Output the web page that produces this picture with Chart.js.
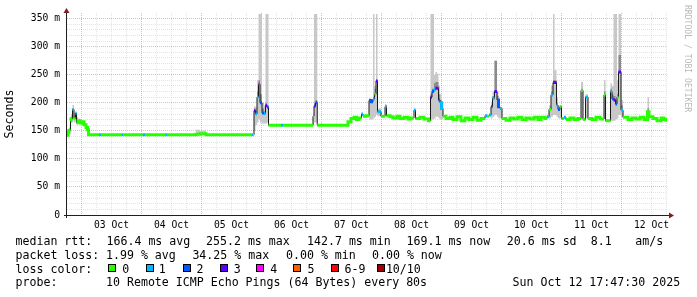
<!DOCTYPE html>
<html><head><meta charset="utf-8">
<script src="https://cdn.jsdelivr.net/npm/chart.js@4.4.1/dist/chart.umd.min.js"></script>
<style>
html,body{margin:0;padding:0;background:#fff;}
#wrap{position:relative;width:697px;height:297px;overflow:hidden;background:#fff;}
canvas{position:absolute;left:0;top:0;}
.t{position:absolute;font-family:'DejaVu Sans Mono',monospace;font-size:11.6px;line-height:14px;color:#000;white-space:pre;}
.box{position:absolute;width:8px;height:8px;box-sizing:border-box;border:1px solid #000;}
#wm{position:absolute;left:683px;top:5px;font-family:'DejaVu Sans Mono',monospace;font-size:8.1px;line-height:10px;color:#b8b8b8;writing-mode:vertical-rl;white-space:pre;}
</style></head><body>
<div id="wrap"><canvas id="c" width="697" height="297" style="width:697px;height:297px"></canvas></div>
<script>
// ---- data (hours since graph start, 02 Oct 18:12) ----
const hours = [0,0.4,0.8,1.4,1.6,2.2,2.8,3.4,3.8,4.4,
5.2,6.0,6.8,7.6,8.2,8.6,12.8,13.6,21.8,22.4,
30.2,31.2,39.4,40.0,51.6,53.2,55.6,74.0,74.4,74.8,
75.4,76.0,76.6,77.2,78.0,78.8,79.4,80.0,80.6,85.6,
86.4,98.4,98.8,99.4,100.1,112.4,113.6,114.8,115.8,116.8,
117.8,118.4,119.6,120.8,121.6,122.4,123.0,123.6,124.2,125.6,
127.2,127.8,129.2,130.4,132.0,133.2,134.8,136.4,137.6,138.8,
139.4,141.2,142.8,144.6,145.4,146.0,146.8,147.4,148.0,148.6,
149.2,149.8,150.4,151.6,153.2,154.4,156.0,157.6,159.2,160.8,
162.4,164.0,165.6,167.2,168.0,168.8,169.6,170.2,171.0,172.0,
172.6,173.2,174.0,175.6,177.2,178.8,180.4,182.0,183.6,185.2,
186.8,188.4,189.6,191.2,192.0,192.8,193.6,194.4,195.0,195.8,
196.4,197.2,197.8,198.8,199.6,201.2,202.8,204.4,205.6,206.4,
207.4,208.4,210.0,211.6,213.2,214.8,215.4,217.4,218.0,218.6,
219.4,220.0,220.6,221.6,222.4,224.4,226.0,227.6,229.2,230.8,
232.2,232.8,234.4,236.0,237.6,238.8,239.6,240.0];
// median rtt in ms
const median = [142,148,151,168,171,188,172,181,165,168,
164,166,161,156,152,143,143,143,143,143,
143,143,143,143,144,145,143,143,143,186,
180,210,233,200,182,181,195,192,160,160,
160,176,194,200,160,166,172,174,170,173,
180,176,177,204,202,207,215,239,184,176,
193,177,175,173,176,172,174,171,173,187,
172,174,171,168,210,220,223,226,226,205,
200,190,176,172,174,170,175,168,173,170,
174,169,172,177,176,178,193,208,220,205,
193,190,172,169,173,171,174,170,173,171,
174,170,174,172,175,188,214,236,236,196,
188,193,172,174,170,173,170,172,222,170,
210,172,170,174,171,214,168,220,207,205,
198,210,255,187,174,170,173,171,174,170,
184,175,172,168,173,170,169,169];
// lost pings out of 10
const loss = [0,0,0,0,0,1,0,1,0,0,
0,0,0,0,0,0,1,0,1,0,
1,0,1,0,0,0,0,1,0,3,
1,1,4,2,2,1,3,2,0,1,
0,1,3,2,0,0,0,0,0,0,
1,0,0,2,2,1,0,3,1,0,
1,0,0,0,0,0,0,0,0,1,
0,0,0,0,3,2,1,3,3,2,
1,1,0,0,0,0,0,0,0,0,
0,0,0,1,0,1,2,1,3,2,
2,1,0,0,0,0,0,0,0,0,
0,0,0,0,1,0,1,3,3,1,
2,0,0,1,0,0,0,0,0,0,
1,0,0,0,0,0,0,1,2,3,
2,0,3,1,0,0,0,0,0,0,
0,0,0,0,0,0,0,0];
// smoke: lowest ping, upper edge of dense smoke, highest ping (ms)
const smokeLow = [142,145,148,160,165,168,165,168,160,163,
162,163,161,156,152,143,143,143,143,143,
143,143,143,143,143,143,143,143,143,150,
160,165,170,165,163,163,163,165,160,160,
160,160,165,165,160,166,172,174,170,173,
180,176,177,170,170,172,175,178,176,176,
176,177,175,173,176,172,174,171,173,187,
172,174,171,168,168,170,172,175,175,172,
170,170,176,172,174,170,175,168,173,170,
174,169,172,177,176,178,172,175,178,175,
172,172,172,169,173,171,174,170,173,171,
174,170,174,172,175,172,175,178,178,175,
172,172,172,174,170,173,170,172,172,170,
172,172,170,174,171,172,168,168,168,168,
170,172,178,175,174,170,173,171,174,170,
172,175,172,168,173,170,169,169];
const smokeDark = [142,148,151,170,175,190,176,183,168,168,
164,166,161,156,152,143,143,143,143,143,
143,143,143,143,144,145,143,143,143,190,
185,220,240,215,190,185,200,196,160,160,
160,176,200,205,160,166,172,174,170,173,
180,176,177,204,202,210,225,241,184,176,
196,177,175,173,176,172,174,171,173,187,
172,174,171,168,215,225,235,237,237,215,
205,192,176,172,174,170,175,168,173,170,
174,169,172,177,176,178,196,212,275,212,
196,190,172,169,173,171,174,170,173,171,
174,170,174,172,175,190,220,240,240,200,
190,193,172,174,170,173,170,172,225,170,
212,172,170,174,171,220,168,225,215,212,
205,215,285,195,174,170,173,171,174,170,
190,175,172,168,173,170,169,169];
const smokeHigh = [142,152,156,176,180,196,182,186,175,172,
168,168,161,156,152,143,143,143,143,143,
143,143,143,143,152,150,143,143,143,194,
192,240,358,358,200,195,358,358,160,160,
160,180,358,358,160,166,172,174,170,173,
180,176,177,208,205,358,230,358,190,176,
198,177,175,173,176,172,174,171,173,187,
172,174,171,168,358,358,250,255,252,230,
215,196,176,172,174,170,175,168,173,170,
174,169,172,177,176,178,200,220,275,220,
200,192,172,169,173,171,174,170,173,171,
174,170,174,172,175,195,230,358,258,210,
195,196,172,174,170,173,170,172,237,170,
215,172,170,174,171,240,168,235,230,358,
358,240,358,205,174,170,173,171,174,170,
210,175,172,168,173,170,169,169];

const yTicksMs = [0,10,20,30,40,50,60,70,80,90,100,110,120,130,140,150,160,170,180,190,200,210,220,230,240,250,260,270,280,290,300,310,320,330,340,350];
const dayLabels = ['03 Oct','04 Oct','05 Oct','06 Oct','07 Oct','08 Oct','09 Oct','10 Oct','11 Oct','12 Oct'];
const lossLabels = ['0','1','2','3','4','5','6-9','10/10'];
const lossColors = ['#26ff00','#00b8ff','#0059ff','#5e00ff','#ff00ff','#ff5e00','#ff0000','#a00000'];
const medianStats = ['166.4 ms avg','255.2 ms max','142.7 ms min','169.1 ms now','20.6 ms sd','8.1','am/s'];
const lossStats = ['1.99 % avg','34.25 % max','0.00 % min','0.00 % now'];
const probeText = '10 Remote ICMP Echo Pings (64 Bytes) every 80s';
const stampText = 'Sun Oct 12 17:47:30 2025';

// ---- layout constants ----
const FIRST_MIDNIGHT = 5.8;   // hours from start to 03 Oct 00:00
const FONT = "'DejaVu Sans Mono', monospace";
const MAJOR = 'rgba(222,70,70,0.4)';
const MINOR = 'rgba(130,130,130,0.22)';
const JUMP = 15; // colored median is not drawn across larger jumps (black line shows them)

function cat(l){ return l>=10?7:(l>=6?6:l); }
const catData = lossColors.map(()=>[]);
for (let i=0;i<hours.length;i++){
  const c = cat(loss[i]), d = catData[c];
  d.push({x:hours[i], y:median[i]});
  if (i+1<hours.length && (cat(loss[i+1])!==c || Math.abs(median[i+1]-median[i])>JUMP)){
    d.push({x:hours[i+1], y:median[i]});
    d.push({x:hours[i+1], y:null});
  }
}
const pts = arr => hours.map((h,i)=>({x:h, y:arr[i]}));

const datasets = [
  {data:pts(smokeHigh), borderWidth:0, borderColor:'rgba(0,0,0,0)', backgroundColor:'#c8c8c8', fill:1, stepped:true, order:10},
  {data:pts(smokeLow), borderWidth:0, borderColor:'rgba(0,0,0,0)', fill:false, stepped:true, order:9},
  {data:pts(smokeDark), borderWidth:0, borderColor:'rgba(0,0,0,0)', backgroundColor:'#8a8a8a', fill:3, stepped:true, order:8},
  {data:pts(median), borderWidth:1, borderColor:'#1a1a1a', fill:false, stepped:true, order:2}
];
catData.forEach((d,c)=>datasets.push({data:d, borderWidth:3, borderColor:lossColors[c], fill:false, stepped:true, spanGaps:false, order:1, borderCapStyle:'butt'}));

const axisArrows = {
  id:'axisArrows',
  afterDraw(chart){
    const {ctx, chartArea:a} = chart;
    ctx.save();
    ctx.strokeStyle='#1f1f1f'; ctx.lineWidth=1;
    ctx.beginPath();
    ctx.moveTo(a.left-0.5, a.bottom+3); ctx.lineTo(a.left-0.5, a.top-3);
    ctx.moveTo(a.left-3, a.bottom+0.5); ctx.lineTo(a.right+4, a.bottom+0.5);
    ctx.stroke();
    ctx.fillStyle='#7f1f1f';
    ctx.beginPath();
    ctx.moveTo(a.left-0.5, a.top-5); ctx.lineTo(a.left-3.5, a.top); ctx.lineTo(a.left+2.5, a.top); ctx.closePath(); ctx.fill();
    ctx.beginPath();
    ctx.moveTo(a.right+7, a.bottom+0.5); ctx.lineTo(a.right+2, a.bottom-2.5); ctx.lineTo(a.right+2, a.bottom+3.5); ctx.closePath(); ctx.fill();
    ctx.restore();
  }
};

new Chart(document.getElementById('c'), {
  type:'line',
  data:{datasets},
  plugins:[axisArrows],
  options:{
    responsive:false, animation:false, devicePixelRatio:1,
    layout:{padding:{left:0, top:13, right:30, bottom:0}},
    plugins:{legend:{display:false}, tooltip:{enabled:false}},
    elements:{point:{radius:0}, line:{tension:0}},
    scales:{
      x:{type:'linear', min:0, max:240,
        afterBuildTicks:s=>{ const t=[]; for(let k=0;FIRST_MIDNIGHT+6*k<=240;k++) t.push({value:FIRST_MIDNIGHT+6*k}); s.ticks=t; },
        afterFit:s=>{ s.height=82; },
        ticks:{autoSkip:false, maxRotation:0, padding:5, color:'#000', font:{family:FONT, size:9.7},
          callback:(v,i)=> (i%4===2 ? dayLabels[(i-2)/4] : '')},
        grid:{drawTicks:false, lineWidth:1, color:c=> (c.index%4===0 ? MAJOR : MINOR)},
        border:{display:false, dash:[1,1]}
      },
      y:{min:0, max:360,
        afterBuildTicks:s=>{ s.ticks = yTicksMs.map(v=>({value:v})); },
        afterFit:s=>{ s.width=67; },
        ticks:{autoSkip:false, padding:7, color:'#000', font:{family:FONT, size:9.7},
          callback:v=> (v%50===0 ? (v===0?'0':v+' m') : '')},
        grid:{drawTicks:false, lineWidth:1, color:c=> (c.tick && c.tick.value%50===0 ? MAJOR : MINOR)},
        border:{display:false, dash:[1,1]},
        title:{display:true, text:'Seconds', color:'#000', font:{family:FONT, size:11.6}, padding:{top:3.5, bottom:0}}
      }
    }
  }
});

// ---- text legend ----
const wrap = document.getElementById('wrap');
function txt(s, x, y){ const d=document.createElement('div'); d.className='t'; d.textContent=s; d.style.left=x+'px'; d.style.top=y+'px'; wrap.appendChild(d); }
const rowTop = [234.3, 248, 261.7, 275.4];
const medX = [106.5, 206, 307, 406.5, 506.8, 590.8, 635.2];
const lossX = [106, 192.4, 286, 372];
const boxX = [108.3,145.7,182.7,220,256,293.3,330.7,377.3];
const boxTextX = [122.3,158.8,196.4,233.8,270.2,307.5,344.5,385.9];
txt('median rtt:', 15.5, rowTop[0]);
medianStats.forEach((s,i)=>txt(s, medX[i], rowTop[0]));
txt('packet loss:', 15.5, rowTop[1]);
lossStats.forEach((s,i)=>txt(s, lossX[i], rowTop[1]));
txt('loss color:', 15.5, rowTop[2]);
lossLabels.forEach((s,i)=>{
  const b=document.createElement('div'); b.className='box'; b.style.left=boxX[i]+'px'; b.style.top='264px'; b.style.background=lossColors[i]; wrap.appendChild(b);
  txt(s, boxTextX[i], rowTop[2]);
});
txt('probe:', 15.5, rowTop[3]);
txt(probeText, 106, rowTop[3]);
txt(stampText, 512.6, rowTop[3]);
const wm=document.createElement('div'); wm.id='wm'; wm.textContent='RRDTOOL / TOBI OETIKER'; wrap.appendChild(wm);
</script>
</body></html>
